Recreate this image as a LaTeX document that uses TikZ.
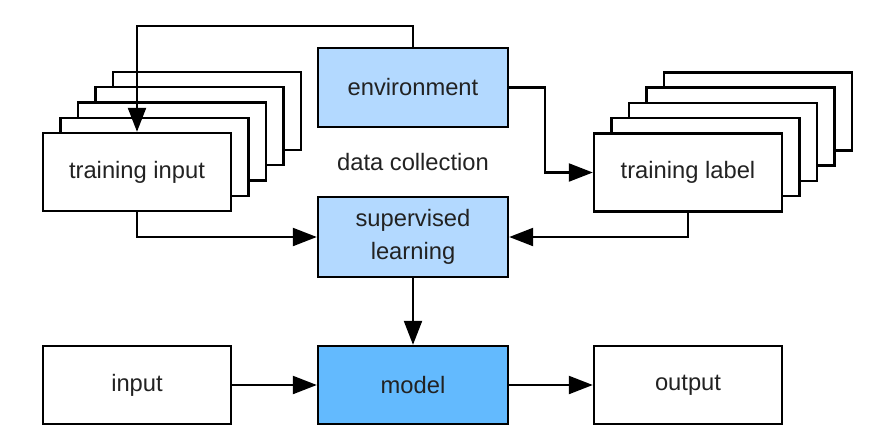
\documentclass[tikz,border=0pt]{standalone}
\usepackage{fontspec}
\setmainfont{Liberation Sans}
\usetikzlibrary{arrows.meta}
\definecolor{lightblue}{HTML}{B3D9FF}
\definecolor{modelblue}{HTML}{63BAFE}
\definecolor{txt}{HTML}{222222}
\begin{document}
\begin{tikzpicture}[x=0.75pt,y=-0.75pt,
  box/.style={draw=black, line width=1.8pt, fill=white, minimum width=141pt, minimum height=58.5pt,
    inner sep=0pt, align=center, text=txt, font=\fontsize{17.8}{25}\selectfont},
  layer/.style={box},
  lbox/.style={box, fill=lightblue, minimum width=142.5pt, minimum height=59.5pt},
  mbox/.style={box, fill=modelblue, minimum width=142.5pt, minimum height=58.5pt},
  arr/.style={line width=1.7pt, -{Triangle[length=18pt,width=13.5pt]}},
  conn/.style={line width=1.7pt}]
\useasboundingbox (0,0) rectangle (894,444);
% left stack
\foreach \k in {4,3,2,1}{
  \node[layer] (tinl\k) at ({137+17.5*\k},{172-15.3*\k}) {};
}
\node[box] (tin) at (137,172) {training input};
% right stack
\foreach \k in {4,3,2,1}{
  \node[layer] (tlabl\k) at ({688+17.5*\k},{172.5-15.3*\k}) {};
}
\node[box] (tlab) at (688,172.5) {training label};
% centre
\node[lbox] (env) at (413,87.5) {environment};
\node[font=\fontsize{17.8}{25}\selectfont, text=txt] (dc) at (413,162) {data collection};
\node[lbox, minimum height=60pt] (sup) at (413,237) {supervised\\learning};
\node[mbox] (model) at (413,385) {model};
\node[box] (input) at (137,385) {input};
\node[box] (output) at (688,385) {output};
% connectors
\draw[arr] (env.north) -- ++(0,-21) -| (tin.north);
\draw[arr] (env.east) -- ++(36,0) |- (tlab.west);
\draw[arr] (tin.south) |- (sup.west);
\draw[arr] (tlab.south) |- (sup.east);
\draw[arr] (sup.south) -- (model.north);
\draw[arr] (input.east) -- (model.west);
\draw[arr] (model.east) -- (output.west);
\end{tikzpicture}
\end{document}
